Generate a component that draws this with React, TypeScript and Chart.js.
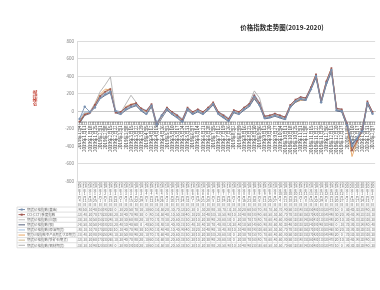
import React, { useEffect, useRef } from "react";
import { Chart, registerables } from "chart.js";

Chart.register(...registerables);

// Weekly observation dates
const categories = [
  "2019年1月4日", "2019年1月11日", "2019年1月18日", "2019年1月25日",
  "2019年2月1日", "2019年2月8日", "2019年2月15日", "2019年2月22日",
  "2019年3月1日", "2019年3月8日", "2019年3月15日", "2019年3月22日", "2019年3月29日",
  "2019年4月5日", "2019年4月12日", "2019年4月19日", "2019年4月26日",
  "2019年5月3日", "2019年5月10日", "2019年5月17日", "2019年5月24日", "2019年5月31日",
  "2019年6月7日", "2019年6月14日", "2019年6月21日", "2019年6月28日",
  "2019年7月5日", "2019年7月12日", "2019年7月19日", "2019年7月26日",
  "2019年8月2日", "2019年8月9日", "2019年8月16日", "2019年8月23日", "2019年8月30日",
  "2019年9月6日", "2019年9月13日", "2019年9月20日", "2019年9月27日",
  "2019年10月4日", "2019年10月11日", "2019年10月18日", "2019年10月25日",
  "2019年11月1日", "2019年11月8日", "2019年11月15日", "2019年11月22日", "2019年11月29日",
  "2019年12月6日", "2019年12月13日", "2019年12月20日", "2019年12月27日",
  "2020年1月3日", "2020年1月10日", "2020年1月17日", "2020年1月24日", "2020年1月31日",
  "2020年2月7日",
];

const seriesNames = [
  "期货价格指数(黄金)",
  "CCI(CCT)季度指数",
  "期货价格指数(白银)",
  "期货价格指数(铜)",
  "期货价格指数(原油期货)",
  "期货价格指数(农产品期货/大豆期货)",
  "期货价格指数(铁矿石期货)",
  "期货价格指数(钢材期货)",
];

const seriesColors = [
  "#7890b0", "#a0564e", "#bdbdbd", "#55607c",
  "#9dbde0", "#e8a665", "#d0b98e", "#b0b0b0",
];

const gold = [-90, 50, -10, 40, 150, 190, 220, 0, -30, 20, 50, 70, 10, -30, 60, -150, -50, 20, -30, -70, -120, 20, -30, 0, -30, 20, 80, -30, -70, -110, -10, -30, 20, 60, 160, 70, -80, -70, -50, -70, -90, 50, 110, 140, 130, 250, 400, 100, 320, 470, 10, 0, -160, -400, -320, -230, 90, -30];
const cci = [-120, -40, -20, 70, 170, 220, 250, -20, -10, 40, 70, 90, 30, 0, 80, -150, -50, 40, -10, -50, -100, 40, -10, 20, -10, 40, 100, -10, -50, -90, 10, -10, 40, 80, 180, 90, -60, -50, -30, -50, -70, 70, 130, 160, 150, 270, 420, 120, 340, 490, 30, 20, -140, -450, -340, -210, 110, -10];
const silver = [-100, -20, -30, 50, 150, 210, 240, -10, -20, 30, 60, 80, 20, -10, 70, -170, -70, 30, -20, -60, -110, 30, -20, 10, -20, 30, 90, -20, -60, -100, 0, -20, 30, 70, 170, 80, -70, -60, -40, -60, -80, 60, 120, 150, 140, 260, 410, 110, 330, 480, 20, 10, -150, -420, -330, -220, 100, -20];
const copper = [-140, -50, -30, 50, 140, 180, 210, -20, -40, 10, 40, 60, 0, -40, 50, -180, -80, 10, -40, -80, -130, 10, -40, -10, -40, 10, 70, -40, -80, -120, -20, -40, 10, 50, 140, 60, -90, -80, -60, -80, -100, 40, 100, 130, 120, 240, 380, 90, 300, 450, 0, -10, -170, -380, -310, -240, 80, -40];
const crude = [-80, -10, -10, 70, 170, 200, 220, 10, -10, 40, 70, 90, 30, 10, 80, -130, -40, 40, -10, -40, -90, 40, -10, 20, -10, 40, 90, -10, -40, -80, 10, -10, 40, 80, 190, 100, -60, -50, -30, -50, -70, 70, 130, 160, 150, 270, 380, 130, 300, 460, 30, 20, -130, -380, -300, -200, 110, -10];
const soybean = [-130, -40, -20, 80, 190, 250, 240, -10, -20, 50, 80, 90, 20, -10, 70, -170, -60, 40, -20, -60, -110, 30, -20, 10, -20, 30, 100, -20, -60, -100, 0, -20, 30, 70, 150, 70, -70, -60, -40, -60, -80, 50, 100, 120, 130, 270, 420, 100, 340, 490, 20, 0, -170, -520, -350, -230, 100, -20];
const ironOre = [-120, -30, -20, 60, 170, 230, 260, -10, -20, 40, 70, 80, 20, -10, 60, -150, -60, 30, -20, -60, -100, 30, -20, 10, -20, 30, 90, -20, -60, -100, 0, -20, 30, 70, 160, 80, -70, -60, -40, -60, -80, 50, 110, 140, 130, 260, 400, 110, 320, 470, 20, 10, -150, -460, -340, -220, 90, -20];
const steel = [-100, -30, -10, 90, 220, 300, 390, 0, -20, 80, 180, 100, 20, -10, 60, -150, -50, 30, -20, -50, -100, 30, -20, 10, -20, 30, 80, -20, -50, -90, 10, -10, 40, 90, 230, 150, -60, -50, -30, -50, -70, 60, 120, 150, 140, 250, 400, 100, 320, 470, 10, 0, -140, -300, -300, -200, 90, -20];

const seriesValues = [gold, cci, silver, copper, crude, soybean, ironOre, steel];
const markerStyles = ["circle", "rect", false, false, false, false, false, false];

const yMin = -800;
const yMax = 800;
const yStep = 200;

const chartTitle = "价格指数走势图(2019-2020)";
const yAxisTitle = "价格指数";

const FONT = '"Noto Sans CJK SC", "Noto Sans", sans-serif';

// Wraps a label into lines no wider than maxW
function wrapText(ctx: CanvasRenderingContext2D, text: string, maxW: number): string[] {
  const lines: string[] = [];
  let cur = "";
  for (const ch of Array.from(text)) {
    const next = cur + ch;
    if (cur && ctx.measureText(next).width > maxW) {
      lines.push(cur);
      cur = ch;
    } else {
      cur = next;
    }
  }
  if (cur) lines.push(cur);
  return lines;
}

const decorPlugin = {
  id: "decor",
  afterDraw(chart: any) {
    const { ctx, chartArea } = chart;
    const xs = chart.scales.x;
    const n = categories.length;
    const step = xs.getPixelForValue(1) - xs.getPixelForValue(0);
    const top = chartArea.bottom;
    const headH = 26;
    const rowH = 5.1;
    const keyLeft = 17;
    const bottom = top + headH + rowH * seriesValues.length;
    const right = chartArea.right;

    ctx.save();

    // chart title
    ctx.fillStyle = "#2a2a2a";
    ctx.font = `bold 6.5px ${FONT}`;
    ctx.textAlign = "center";
    ctx.textBaseline = "middle";
    ctx.fillText(chartTitle, chart.width * 0.742, 28);

    // value axis title
    ctx.save();
    ctx.translate(35, 98);
    ctx.rotate(-Math.PI / 2);
    ctx.fillStyle = "#c0392b";
    ctx.font = `bold 4px ${FONT}`;
    ctx.fillText(yAxisTitle, 0, 0);
    ctx.restore();

    // table grid
    ctx.strokeStyle = "#d8d8d8";
    ctx.lineWidth = 0.8;
    ctx.beginPath();
    ctx.moveTo(chartArea.left, top + 0.5);
    ctx.lineTo(right, top + 0.5);
    for (let r = 0; r <= seriesValues.length; r++) {
      const y = top + headH + r * rowH;
      ctx.moveTo(keyLeft, y);
      ctx.lineTo(right, y);
    }
    for (let i = 0; i <= n; i++) {
      const x = xs.getPixelForValue(i) - step / 2;
      ctx.moveTo(x, top);
      ctx.lineTo(x, bottom);
    }
    ctx.moveTo(keyLeft, top + headH);
    ctx.lineTo(keyLeft, bottom);
    ctx.stroke();

    // header: category names wrapped in each column
    ctx.fillStyle = "#707070";
    ctx.font = `3.4px ${FONT}`;
    ctx.textAlign = "center";
    ctx.textBaseline = "middle";
    categories.forEach((label, i) => {
      const cx = xs.getPixelForValue(i);
      const lines = wrapText(ctx, label, step * 0.95);
      const lh = 3.5;
      const y0 = top + headH / 2 - ((lines.length - 1) * lh) / 2;
      lines.forEach((ln, k) => ctx.fillText(ln, cx, y0 + k * lh, step - 0.4));
    });

    // series rows
    seriesValues.forEach((vals, r) => {
      const cy = top + headH + r * rowH + rowH / 2;
      // key sample
      ctx.strokeStyle = seriesColors[r];
      ctx.lineWidth = 1;
      ctx.beginPath();
      ctx.moveTo(keyLeft + 1.5, cy);
      ctx.lineTo(keyLeft + 8, cy);
      ctx.stroke();
      if (markerStyles[r]) {
        ctx.fillStyle = seriesColors[r];
        ctx.fillRect(keyLeft + 3.7, cy - 1, 2, 2);
      }
      ctx.fillStyle = "#6a6a6a";
      ctx.font = `3.5px ${FONT}`;
      ctx.textAlign = "left";
      ctx.fillText(seriesNames[r], keyLeft + 10, cy, chartArea.left - keyLeft - 11);
      ctx.textAlign = "center";
      vals.forEach((v, i) => {
        ctx.fillText(String(v), xs.getPixelForValue(i), cy, step - 0.6);
      });
    });

    ctx.restore();
  },
};

export default function App() {
  const ref = useRef<HTMLCanvasElement | null>(null);

  useEffect(() => {
    if (!ref.current) return;
    const chart = new Chart(ref.current, {
      type: "line",
      data: {
        labels: categories,
        datasets: seriesValues.map((vals, i) => ({
          label: seriesNames[i],
          data: vals,
          borderColor: seriesColors[i],
          backgroundColor: seriesColors[i],
          borderWidth: 0.9,
          tension: 0,
          pointStyle: (markerStyles[i] || "circle") as any,
          pointRadius: markerStyles[i] ? 1.2 : 0,
          pointBorderWidth: 0,
        })),
      },
      options: {
        animation: false,
        responsive: false,
        devicePixelRatio: 1,
        layout: { padding: { top: 41, bottom: 109, left: 0, right: 0 } },
        plugins: {
          legend: { display: false },
          title: { display: false },
          tooltip: { enabled: false },
        },
        scales: {
          x: {
            type: "category",
            position: { y: 0 } as any,
            offset: true,
            grid: { display: false },
            border: { display: true, color: "#c8c8c8" },
            ticks: {
              autoSkip: false,
              minRotation: 90,
              maxRotation: 90,
              padding: 2,
              color: "#454545",
              font: { size: 4.5, family: FONT },
            },
            afterFit: (s: any) => {
              s.height = 0;
            },
          },
          y: {
            min: yMin,
            max: yMax,
            ticks: {
              stepSize: yStep,
              padding: 3,
              color: "#808080",
              font: { size: 4.5, family: FONT },
            },
            grid: { color: "#dcdcdc", drawTicks: false },
            border: { display: true, color: "#dcdcdc" },
            afterFit: (s: any) => {
              s.width = 77;
            },
          },
        },
      },
      plugins: [decorPlugin],
    });
    return () => chart.destroy();
  }, []);

  return (
    <div
      style={{
        position: "fixed",
        left: 0,
        top: 0,
        width: 380,
        height: 290,
        overflow: "hidden",
        background: "#fff",
      }}
    >
      <canvas ref={ref} width={380} height={290} style={{ display: "block" }} />
    </div>
  );
}
